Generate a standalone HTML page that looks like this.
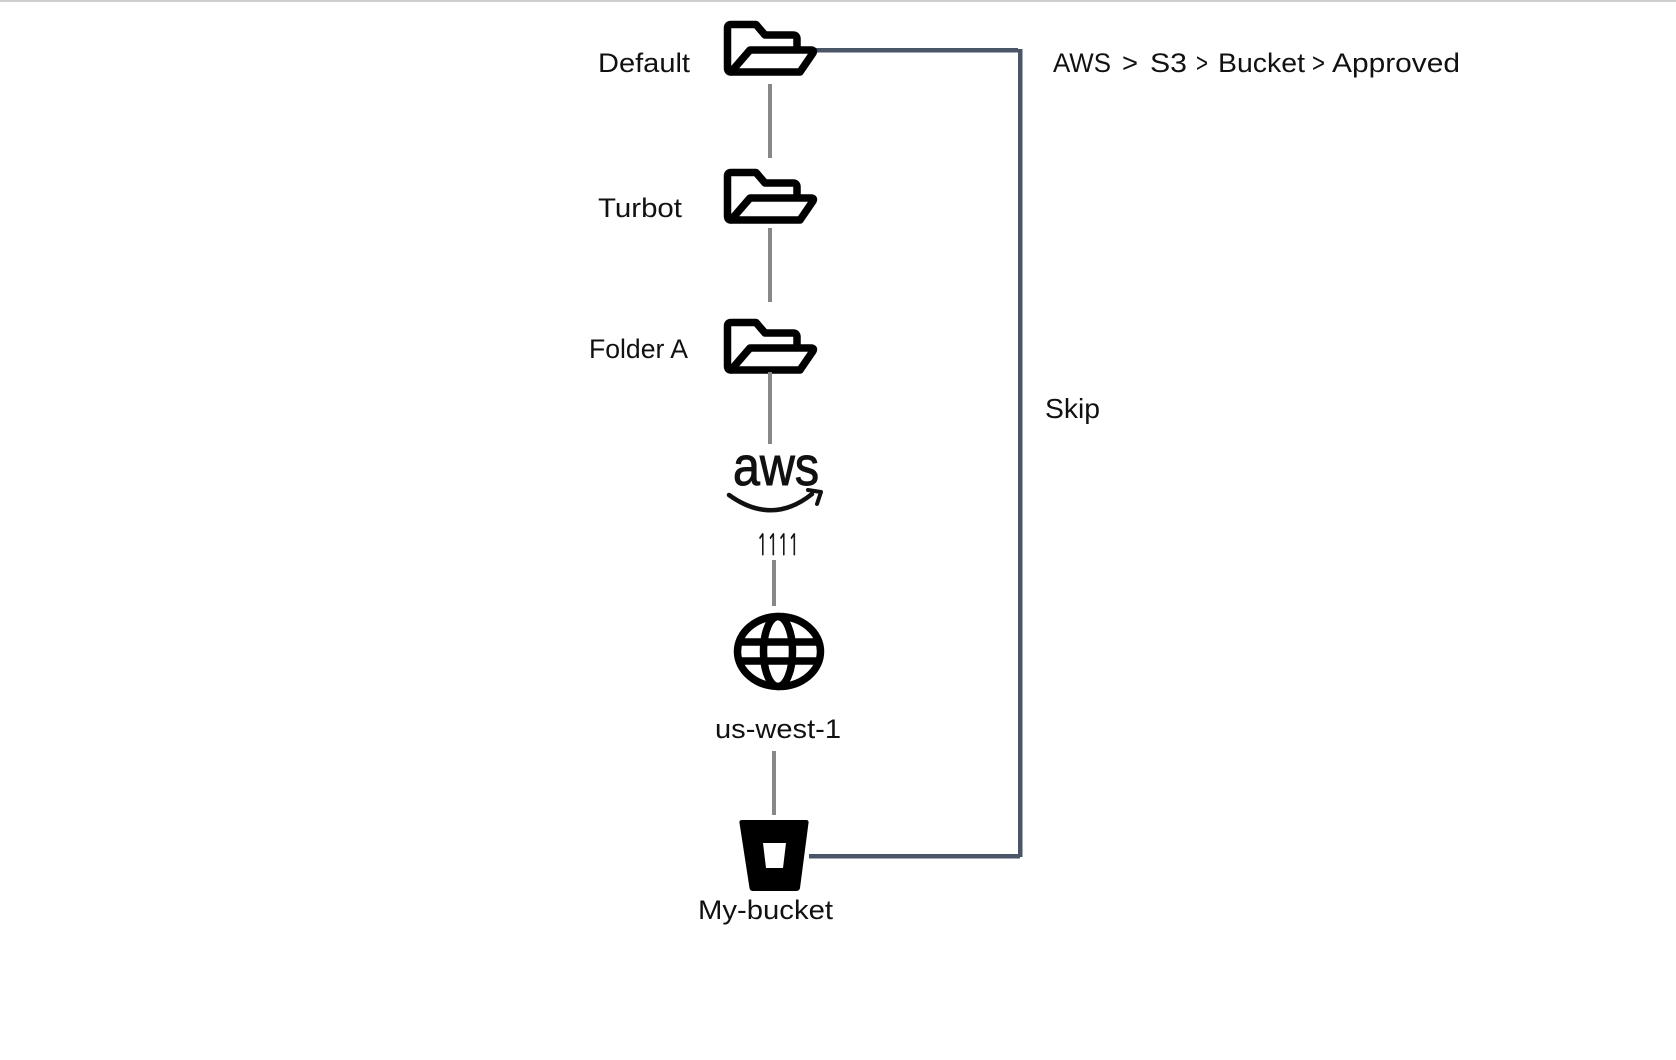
<!DOCTYPE html>
<html>
<head>
<meta charset="utf-8">
<style>
  html, body { margin: 0; padding: 0; background: #ffffff; }
  body { width: 1676px; height: 1060px; overflow: hidden; position: relative; }
  svg { position: absolute; left: 0; top: 0; display: block; }
  text { font-family: "Liberation Sans", "DejaVu Sans", sans-serif; fill: #111111; }
</style>
</head>
<body>
<svg width="1676" height="1060" viewBox="0 0 1676 1060" xmlns="http://www.w3.org/2000/svg">
  <!-- top border -->
  <rect x="0" y="0" width="1676" height="2" fill="#cfcfcf"/>

  <defs>
    <g id="folder" fill="none" stroke="#000" stroke-width="7.5" stroke-linejoin="round" stroke-linecap="round">
      <path d="M797,47 L797,39 Q797,35 793,35 L765,35 L756,24.5 L731,24.5 Q727.5,24.5 727.5,28 L727.5,68 Q727.5,72 731,72"/>
      <path d="M731,72 L800,72 L813,53 Q814.5,50 811,50 L750,50 Z"/>
    </g>
  </defs>

  <!-- slate skip connector -->
  <g fill="#4a5568">
    <rect x="814" y="48" width="204" height="4.5"/>
    <rect x="1018" y="49" width="4.5" height="808"/>
    <rect x="809" y="854" width="211" height="4.5"/>
  </g>

  <!-- folders -->
  <use href="#folder"/>
  <use href="#folder" transform="translate(0,148)"/>
  <use href="#folder" transform="translate(0,298)"/>

  <!-- gray connectors -->
  <g fill="#888888">
    <rect x="768" y="84" width="4" height="74"/>
    <rect x="768" y="228" width="4" height="74"/>
    <rect x="768" y="372" width="4" height="72"/>
    <rect x="772" y="560" width="4" height="46"/>
    <rect x="772" y="751" width="4" height="64"/>
  </g>

  <!-- aws logo -->
  <text x="733" y="485" font-size="55" textLength="86" lengthAdjust="spacingAndGlyphs" stroke="#111" stroke-width="1">aws</text>
  <path d="M729,495 Q772,526 812,494" fill="none" stroke="#111" stroke-width="4.5" stroke-linecap="round"/>
  <path d="M808,490 L821,492 L817,504" fill="none" stroke="#111" stroke-width="4" stroke-linecap="round" stroke-linejoin="round"/>

  <!-- globe -->
  <g fill="none" stroke="#000" stroke-width="7.5">
    <ellipse cx="779" cy="651.5" rx="41.5" ry="35"/>
    <ellipse cx="778" cy="651.5" rx="14.5" ry="35"/>
    <line x1="739" y1="642" x2="819" y2="642"/>
    <line x1="739" y1="661" x2="819" y2="661"/>
  </g>

  <!-- bucket -->
  <path d="M742,820 L806,820 Q809,820 808.5,823 L800,888 Q799.5,891 796,891 L753,891 Q750,891 749.5,888 L739.5,823 Q739,820 742,820 Z M763,843 L786,843 L783,868 L766,868 Z" fill="#000" fill-rule="evenodd"/>

  <!-- labels -->
  <text x="598" y="72" font-size="27" textLength="92" lengthAdjust="spacingAndGlyphs">Default</text>
  <text x="598" y="217" font-size="27" textLength="84" lengthAdjust="spacingAndGlyphs">Turbot</text>
  <text x="589" y="358" font-size="27" textLength="99" lengthAdjust="spacingAndGlyphs">Folder A</text>
  <text x="757" y="555" font-size="29" textLength="42" lengthAdjust="spacingAndGlyphs" stroke="#111" stroke-width="0.7" style="font-family:'NanumGothic','Liberation Sans',sans-serif;">1111</text>
  <text x="715" y="738" font-size="27" textLength="126" lengthAdjust="spacingAndGlyphs">us-west-1</text>
  <text x="698" y="919" font-size="27" textLength="135" lengthAdjust="spacingAndGlyphs">My-bucket</text>
  <text x="1045" y="418" font-size="28" textLength="55" lengthAdjust="spacingAndGlyphs">Skip</text>

  <!-- breadcrumb -->
  <text x="1053" y="72" font-size="27" textLength="58" lengthAdjust="spacingAndGlyphs">AWS</text>
  <text x="1122" y="72" font-size="27" textLength="16" lengthAdjust="spacingAndGlyphs">&gt;</text>
  <text x="1150" y="72" font-size="27" textLength="37" lengthAdjust="spacingAndGlyphs">S3</text>
  <text x="1196" y="72" font-size="27" textLength="12" lengthAdjust="spacingAndGlyphs">&gt;</text>
  <text x="1218" y="72" font-size="27" textLength="87" lengthAdjust="spacingAndGlyphs">Bucket</text>
  <text x="1312" y="72" font-size="27" textLength="13" lengthAdjust="spacingAndGlyphs">&gt;</text>
  <text x="1332" y="72" font-size="27" textLength="128" lengthAdjust="spacingAndGlyphs">Approved</text>
</svg>
</body>
</html>
